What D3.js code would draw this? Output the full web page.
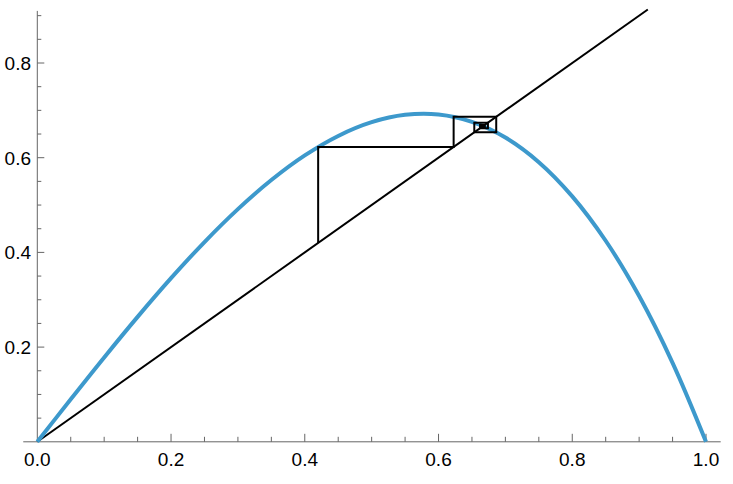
<!DOCTYPE html>
<html>
<head>
<meta charset="utf-8">
<script src="https://cdn.jsdelivr.net/npm/d3@7"></script>
<style>
  html, body { margin: 0; padding: 0; background: #fff; }
  svg { display: block; }
  text { font-family: "Liberation Sans", Arial, sans-serif; }
</style>
</head>
<body>
<svg id="chart" width="733" height="484"></svg>
<script>
// Curve samples (x, y)
const curveX = [0, 0.05, 0.1, 0.15, 0.2, 0.25, 0.3, 0.35, 0.4, 0.45, 0.5,
                0.55, 0.6, 0.65, 0.7, 0.75, 0.8, 0.85, 0.9, 0.95, 1.0];
const curveY = [0, 0.0898, 0.1782, 0.2639, 0.3456, 0.4219, 0.4914, 0.5528, 0.6048, 0.6460, 0.675,
                0.6905, 0.6912, 0.6757, 0.6426, 0.5906, 0.5184, 0.4246, 0.3078, 0.1667, 0];
// Cobweb iterates
const cobweb = [0.42, 0.6226, 0.6863, 0.6535, 0.6739, 0.6621, 0.6693, 0.6650, 0.6676,
                0.6661, 0.6670, 0.6665, 0.6668];
// Diagonal y = x end points
const diagX = [0, 0.913];
// Tick labels
const xMajor = [0, 0.2, 0.4, 0.6, 0.8, 1.0];
const yMajor = [0.2, 0.4, 0.6, 0.8];
const xLabels = ["0.0", "0.2", "0.4", "0.6", "0.8", "1.0"];
const yLabels = ["0.2", "0.4", "0.6", "0.8"];

const svg = d3.select("#chart");
const x = d3.scaleLinear().domain([0, 1]).range([37.3, 706]);
const y = d3.scaleLinear().domain([0, 0.8]).range([441.8, 63]);
const xMin = -0.021, xMax = 1.022, yMax = 0.91;

const axisColor = "#666666";

// x axis
svg.append("line")
  .attr("x1", x(xMin)).attr("x2", x(xMax))
  .attr("y1", y(0)).attr("y2", y(0))
  .attr("stroke", axisColor).attr("stroke-width", 1);
const xMinor = d3.range(1, 21).map(i => i * 0.05);
svg.selectAll(".xt").data(xMinor).enter().append("line")
  .attr("x1", d => x(d)).attr("x2", d => x(d))
  .attr("y1", y(0))
  .attr("y2", d => y(0) - (Math.abs(d * 5 - Math.round(d * 5)) < 1e-6 ? 8 : 5))
  .attr("stroke", axisColor).attr("stroke-width", 1);
svg.selectAll(".xl").data(xMajor).enter().append("text")
  .attr("x", d => x(d)).attr("y", 466)
  .attr("text-anchor", "middle")
  .attr("font-size", 19).attr("fill", "#000")
  .text((d, i) => xLabels[i]);

// y axis
svg.append("line")
  .attr("x1", x(0)).attr("x2", x(0))
  .attr("y1", y(0)).attr("y2", y(yMax))
  .attr("stroke", axisColor).attr("stroke-width", 1);
const yMinor = d3.range(1, 19).map(i => i * 0.05);
svg.selectAll(".yt").data(yMinor).enter().append("line")
  .attr("y1", d => y(d)).attr("y2", d => y(d))
  .attr("x1", x(0))
  .attr("x2", d => x(0) + (Math.abs(d * 5 - Math.round(d * 5)) < 1e-6 ? 7 : 4))
  .attr("stroke", axisColor).attr("stroke-width", 1);
svg.selectAll(".yl").data(yMajor).enter().append("text")
  .attr("x", 31).attr("y", d => y(d) + 7)
  .attr("text-anchor", "end")
  .attr("font-size", 19).attr("fill", "#000")
  .text((d, i) => yLabels[i]);

// diagonal
svg.append("line")
  .attr("x1", x(diagX[0])).attr("y1", y(diagX[0]))
  .attr("x2", x(diagX[1])).attr("y2", y(diagX[1]))
  .attr("stroke", "#000").attr("stroke-width", 2);

// curve
const line = d3.line().x(d => x(d[0])).y(d => y(d[1])).curve(d3.curveCatmullRom);
svg.append("path")
  .datum(curveX.map((v, i) => [v, curveY[i]]))
  .attr("d", line)
  .attr("fill", "none")
  .attr("stroke", "rgb(61,153,204)")
  .attr("stroke-width", 4)
  .attr("stroke-linecap", "butt");

// cobweb
const pts = [[cobweb[0], cobweb[0]]];
for (let i = 0; i < cobweb.length - 1; i++) {
  pts.push([cobweb[i], cobweb[i + 1]]);
  pts.push([cobweb[i + 1], cobweb[i + 1]]);
}
svg.append("path")
  .datum(pts)
  .attr("d", d3.line().x(d => x(d[0])).y(d => y(d[1])))
  .attr("fill", "none")
  .attr("stroke", "#000")
  .attr("stroke-width", 2)
  .attr("stroke-linejoin", "miter");
</script>
</body>
</html>
